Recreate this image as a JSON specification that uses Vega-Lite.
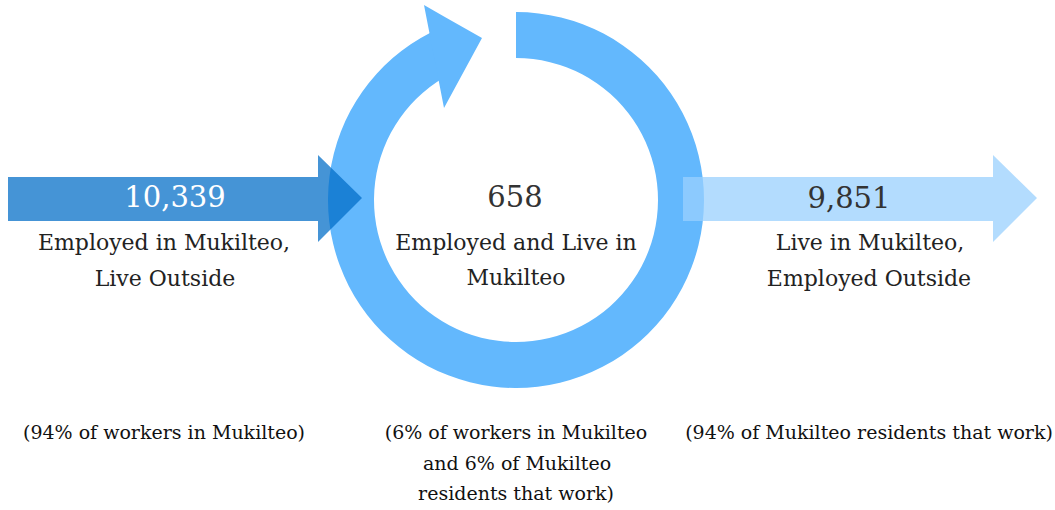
{
  "$schema": "https://vega.github.io/schema/vega-lite/v6.json",
  "width": 1055,
  "height": 510,
  "padding": 0,
  "autosize": {"type": "none"},
  "background": "white",
  "config": {"view": {"stroke": null}},
  "datasets": {
    "ring": [{"cx": 516, "cy": 200, "t0": 0, "t1": 5.81, "r0": 142, "r1": 188}],
    "ringHead": [
      {"x": 424, "y": 5, "y2": 5},
      {"x": 444, "y": 16.4, "y2": 108},
      {"x": 482, "y": 38, "y2": 38}
    ],
    "leftArrow": [
      {"x": 8, "y": 177, "y2": 221},
      {"x": 318, "y": 177, "y2": 221},
      {"x": 318, "y": 155, "y2": 242},
      {"x": 362, "y": 198, "y2": 198}
    ],
    "rightArrow": [
      {"x": 683, "y": 177, "y2": 221},
      {"x": 993, "y": 177, "y2": 221},
      {"x": 993, "y": 155, "y2": 242},
      {"x": 1037, "y": 198, "y2": 198}
    ],
    "numbers": [
      {"x": 175, "y": 198, "label": "10,339", "kind": "in"},
      {"x": 515, "y": 198, "label": "658", "kind": "both"},
      {"x": 849, "y": 199, "label": "9,851", "kind": "out"}
    ],
    "labels": [
      {"x": 164, "y": 243, "label": "Employed in Mukilteo,"},
      {"x": 165, "y": 279, "label": "Live Outside"},
      {"x": 516, "y": 243, "label": "Employed and Live in"},
      {"x": 516, "y": 278, "label": "Mukilteo"},
      {"x": 870, "y": 243, "label": "Live in Mukilteo,"},
      {"x": 869, "y": 279, "label": "Employed Outside"}
    ],
    "notes": [
      {"x": 164, "y": 433, "label": "(94% of workers in Mukilteo)"},
      {"x": 516, "y": 433, "label": "(6% of workers in Mukilteo"},
      {"x": 517, "y": 464, "label": "and 6% of Mukilteo"},
      {"x": 516, "y": 494, "label": "residents that work)"},
      {"x": 869, "y": 433, "label": "(94% of Mukilteo residents that work)"}
    ]
  },
  "layer": [
    {
      "data": {"name": "ring"},
      "mark": {"type": "arc", "color": "#63b8fd"},
      "encoding": {
        "x": {"field": "cx", "type": "quantitative", "scale": {"domain": [0, 1055], "range": [0, 1055]}, "axis": null},
        "y": {"field": "cy", "type": "quantitative", "scale": {"domain": [0, 510], "range": [0, 510]}, "axis": null},
        "theta": {"field": "t0", "type": "quantitative", "scale": null},
        "theta2": {"field": "t1"},
        "radius": {"field": "r1", "type": "quantitative", "scale": null},
        "radius2": {"field": "r0"}
      }
    },
    {
      "data": {"name": "ringHead"},
      "mark": {"type": "area", "color": "#63b8fd", "orient": "vertical"},
      "encoding": {
        "x": {"field": "x", "type": "quantitative", "scale": {"domain": [0, 1055], "range": [0, 1055]}, "axis": null},
        "y": {"field": "y", "type": "quantitative", "scale": {"domain": [0, 510], "range": [0, 510]}, "axis": null},
        "y2": {"field": "y2"}
      }
    },
    {
      "data": {"name": "leftArrow"},
      "mark": {"type": "area", "color": "#006cc7", "opacity": 0.73, "orient": "vertical"},
      "encoding": {
        "x": {"field": "x", "type": "quantitative", "scale": {"domain": [0, 1055], "range": [0, 1055]}, "axis": null},
        "y": {"field": "y", "type": "quantitative", "scale": {"domain": [0, 510], "range": [0, 510]}, "axis": null},
        "y2": {"field": "y2"}
      }
    },
    {
      "data": {"name": "rightArrow"},
      "mark": {"type": "area", "color": "#99d0fd", "opacity": 0.75, "orient": "vertical"},
      "encoding": {
        "x": {"field": "x", "type": "quantitative", "scale": {"domain": [0, 1055], "range": [0, 1055]}, "axis": null},
        "y": {"field": "y", "type": "quantitative", "scale": {"domain": [0, 510], "range": [0, 510]}, "axis": null},
        "y2": {"field": "y2"}
      }
    },
    {
      "data": {"name": "numbers"},
      "mark": {"type": "text", "font": "DejaVu Serif", "fontSize": 29, "baseline": "middle", "align": "center"},
      "encoding": {
        "x": {"field": "x", "type": "quantitative", "scale": {"domain": [0, 1055], "range": [0, 1055]}, "axis": null},
        "y": {"field": "y", "type": "quantitative", "scale": {"domain": [0, 510], "range": [0, 510]}, "axis": null},
        "text": {"field": "label"},
        "color": {"field": "kind", "type": "nominal", "scale": {"domain": ["in", "both", "out"], "range": ["#ffffff", "#333333", "#333333"]}, "legend": null}
      }
    },
    {
      "data": {"name": "labels"},
      "mark": {"type": "text", "font": "DejaVu Serif", "fontSize": 22, "baseline": "middle", "align": "center", "color": "#222222"},
      "encoding": {
        "x": {"field": "x", "type": "quantitative", "scale": {"domain": [0, 1055], "range": [0, 1055]}, "axis": null},
        "y": {"field": "y", "type": "quantitative", "scale": {"domain": [0, 510], "range": [0, 510]}, "axis": null},
        "text": {"field": "label"}
      }
    },
    {
      "data": {"name": "notes"},
      "mark": {"type": "text", "font": "DejaVu Serif", "fontSize": 19, "baseline": "middle", "align": "center", "color": "#111111"},
      "encoding": {
        "x": {"field": "x", "type": "quantitative", "scale": {"domain": [0, 1055], "range": [0, 1055]}, "axis": null},
        "y": {"field": "y", "type": "quantitative", "scale": {"domain": [0, 510], "range": [0, 510]}, "axis": null},
        "text": {"field": "label"}
      }
    }
  ]
}
